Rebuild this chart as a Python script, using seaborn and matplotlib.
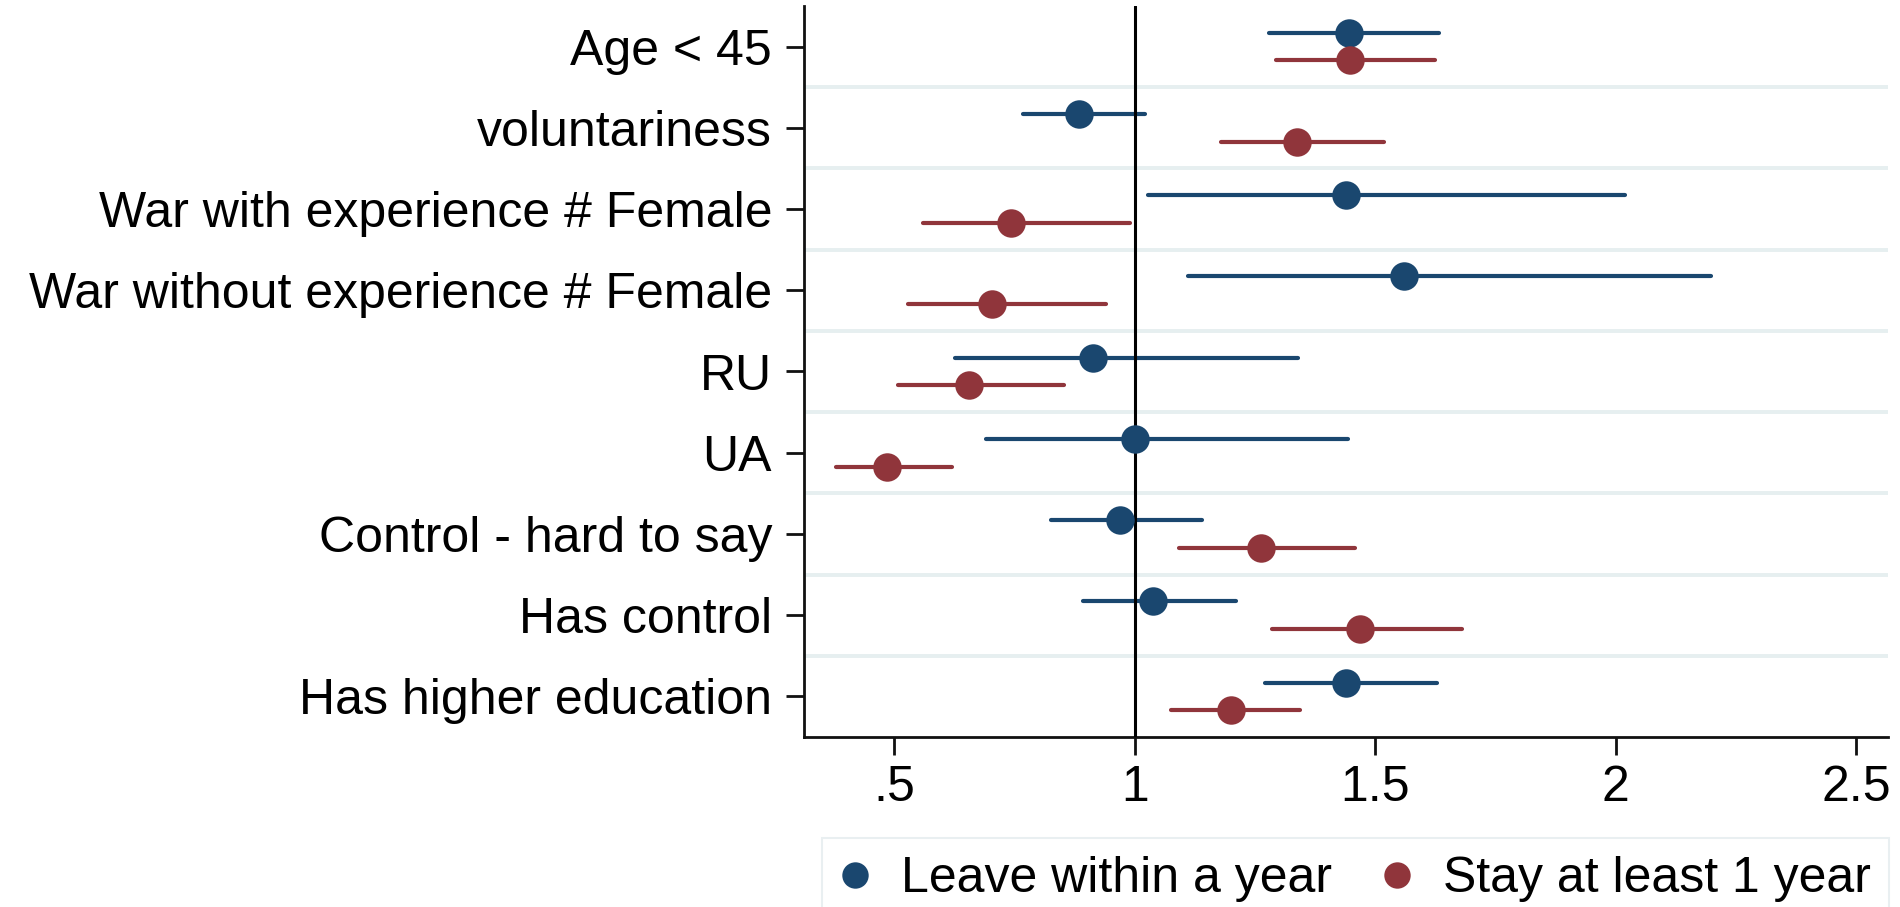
import pandas as pd
import numpy as np
import seaborn as sns
import matplotlib.pyplot as plt
from matplotlib.lines import Line2D

# coefficients (odds ratios) with 95% CI
categories = ["Age < 45", "voluntariness", "War with experience # Female",
              "War without experience # Female", "RU", "UA",
              "Control - hard to say", "Has control", "Has higher education"]
groups = ["Leave within a year", "Stay at least 1 year"]

leave_est = [1.445, 0.884, 1.440, 1.560, 0.914, 1.000, 0.970, 1.037, 1.439]
leave_lo = [1.280, 0.768, 1.028, 1.110, 0.627, 0.691, 0.825, 0.892, 1.270]
leave_hi = [1.633, 1.022, 2.019, 2.198, 1.339, 1.444, 1.140, 1.211, 1.628]

stay_est = [1.448, 1.338, 0.742, 0.703, 0.655, 0.485, 1.262, 1.469, 1.200]
stay_lo = [1.293, 1.180, 0.560, 0.529, 0.507, 0.379, 1.093, 1.286, 1.075]
stay_hi = [1.624, 1.519, 0.990, 0.940, 0.852, 0.620, 1.458, 1.681, 1.344]

xticks = [0.5, 1, 1.5, 2, 2.5]
xticklabels = [".5", "1", "1.5", "2", "2.5"]

colors = {"Leave within a year": "#1a476f", "Stay at least 1 year": "#90353b"}

# long table: lo / est / hi per row, median = estimate, min-max = CI
rows = []
for g, est, lo, hi in [(groups[0], leave_est, leave_lo, leave_hi),
                       (groups[1], stay_est, stay_lo, stay_hi)]:
    for c, e, l, h in zip(categories, est, lo, hi):
        for v in (l, e, h):
            rows.append({"term": c, "group": g, "value": v})
df = pd.DataFrame(rows)

sns.set_style("ticks")
plt.rcParams["font.family"] = ["Liberation Sans", "DejaVu Sans"]
plt.rcParams["font.size"] = 36
plt.rcParams["text.color"] = "black"
plt.rcParams["xtick.labelcolor"] = "black"
plt.rcParams["ytick.labelcolor"] = "black"

fig = plt.figure(figsize=(19, 9.07), dpi=100)
ax = fig.add_axes([804 / 1900, 1 - 737 / 907, 1084 / 1900, 731 / 907])

sns.pointplot(data=df, x="value", y="term", hue="group", order=categories,
              hue_order=groups, palette=colors, estimator="median",
              errorbar=lambda v: (v.min(), v.max()), dodge=0.34,
              markers="o", linestyle="none", markersize=20.5,
              markeredgewidth=0, capsize=0,
              err_kws={"linewidth": 3.0}, legend=False, ax=ax)

# points above their CI lines
for ln in ax.lines:
    if ln.get_marker() not in (None, "None", "", " "):
        ln.set_zorder(4)
    else:
        ln.set_zorder(2)
        ln.set_linewidth(3.0)

for i in range(len(categories) - 1):
    ax.axhline(i + 0.5, color="#e6eff0", lw=2.8, zorder=1)
ax.axvline(1, color="black", lw=2.2, zorder=3)

ax.set_xlim(0.3125, 2.566)
ax.set_ylim(len(categories) - 0.5, -0.5)
ax.set_xticks(xticks)
ax.set_xticklabels(xticklabels)
ax.set_xlabel("")
ax.set_ylabel("")
ax.tick_params(axis="both", length=13, width=2, color="#111111", labelsize=36,
               labelcolor="black")
ax.tick_params(axis="y", pad=10)
ax.tick_params(axis="x", pad=7)
sns.despine(ax=ax)
for side in ["left", "bottom"]:
    ax.spines[side].set_linewidth(2)
    ax.spines[side].set_color("#111111")

handles = [Line2D([], [], marker="o", linestyle="none", color=colors[g],
                  markersize=19, markeredgewidth=0) for g in groups]
leg = fig.legend(handles, groups, loc="upper left",
                 bbox_to_anchor=(822 / 1900, 1 - 838 / 907), ncol=2,
                 fontsize=36, frameon=True, fancybox=False,
                 borderpad=0.36, handlelength=0.6, handletextpad=0.62,
                 columnspacing=1.0, borderaxespad=0)
leg.get_frame().set_edgecolor("#e4ecee")
leg.get_frame().set_linewidth(1.5)

fig.savefig("out.png", dpi=100)
